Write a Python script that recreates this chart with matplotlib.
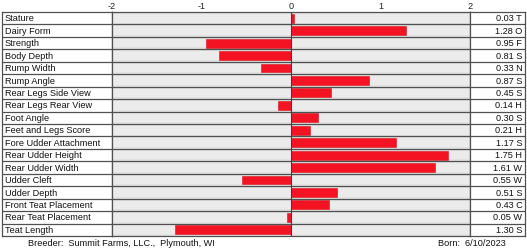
import matplotlib
matplotlib.use("Agg")
import matplotlib.pyplot as plt

traits = ["Stature", "Dairy Form", "Strength", "Body Depth", "Rump Width", "Rump Angle",
          "Rear Legs Side View", "Rear Legs Rear View", "Foot Angle", "Feet and Legs Score",
          "Fore Udder Attachment", "Rear Udder Height", "Rear Udder Width", "Udder Cleft",
          "Udder Depth", "Front Teat Placement", "Rear Teat Placement", "Teat Length"]
values = [0.03, 1.28, -0.95, -0.81, -0.33, 0.87, 0.45, -0.14, 0.30, 0.21,
          1.17, 1.75, 1.61, -0.55, 0.51, 0.43, -0.05, -1.30]
codes = ["T", "O", "F", "S", "N", "S", "S", "H", "S", "H",
         "S", "H", "W", "W", "S", "C", "W", "S"]
ticks = [-2, -1, 0, 1, 2]
breeder = "Breeder:  Summit Farms, LLC.,  Plymouth, WI"
born = "Born:  6/10/2023"

plt.rcParams['font.family'] = ['Liberation Sans', 'DejaVu Sans']
W, H = 527, 250
fig = plt.figure(figsize=(W / 100, H / 100), dpi=100)

top_px, bot_px = 12, 236
y0 = 1 - bot_px / H
hgt = (bot_px - top_px) / H
xl, xd1, xd2, xr = 2, 112, 470, 525

n = len(traits)
line_col = "#505050"
fs = 6.6

ax_l = fig.add_axes([xl / W, y0, (xd1 - xl) / W, hgt])
ax = fig.add_axes([xd1 / W, y0, (xd2 - xd1) / W, hgt])
ax_r = fig.add_axes([xd2 / W, y0, (xr - xd2) / W, hgt])

for a in (ax_l, ax, ax_r):
    a.set_ylim(n, 0)
    a.set_xlim(0, 1)
    a.set_xticks([])
    a.set_yticks([])
    for s in a.spines.values():
        s.set_color(line_col)
        s.set_linewidth(0.9)
    for i in range(1, n):
        a.axhline(i, color=line_col, lw=0.9, zorder=3)

# main plot
ax.set_xlim(-2, 2)
ax.set_facecolor("#e2e2e2")
for i in range(n):
    ax.axhspan(i + 0.15, i + 0.85, color="#ebebeb", lw=0, zorder=0)
ypos = [i + 0.5 for i in range(n)]
ax.barh(ypos, values, height=0.72, color="#f41322", edgecolor="#d8101c", linewidth=0.4, zorder=2)
ax.axvline(0, color="#404040", lw=0.8, zorder=4)
ax.set_xticks(ticks)
ax.set_xticklabels([str(t) for t in ticks])
ax.xaxis.tick_top()
ax.tick_params(axis="x", length=0, pad=1, labelsize=fs, colors="#222222")

# labels
for i, t in enumerate(traits):
    ax_l.text(0.025, i + 0.55, t, ha="left", va="center", fontsize=fs, color="#111111")
for i, (v, c) in enumerate(zip(values, codes)):
    ax_r.text(0.95, i + 0.55, f"{abs(v):.2f} {c}", ha="right", va="center", fontsize=fs, color="#111111")

fig.text(28 / W, 1 - 243 / H, breeder, ha="left", va="center", fontsize=fs, color="#111111")
fig.text(438 / W, 1 - 243 / H, born, ha="left", va="center", fontsize=fs, color="#111111")

fig.savefig("out.png", dpi=100)
